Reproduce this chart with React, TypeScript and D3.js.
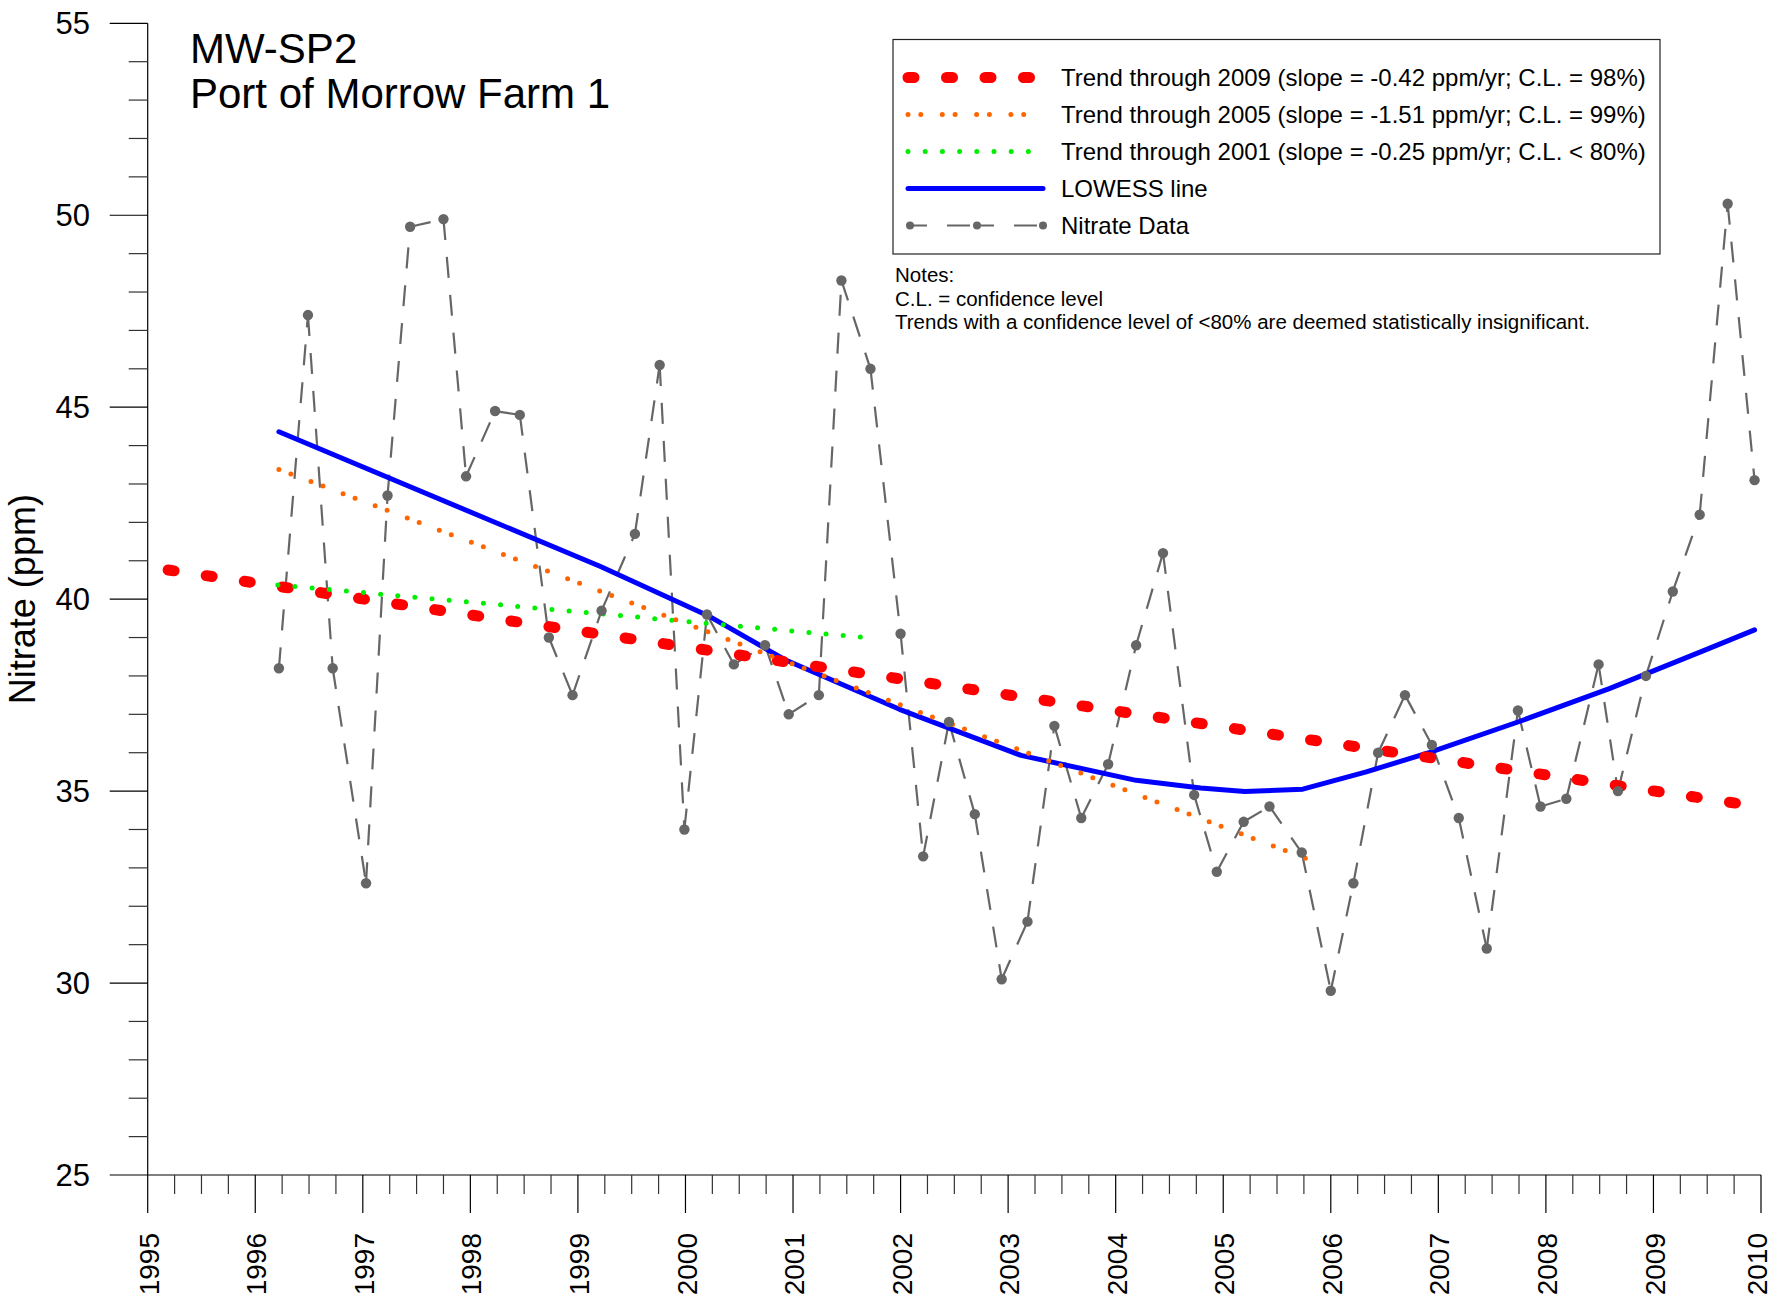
import * as d3 from "d3";
import { useEffect, useRef } from "react";

// sample dates (decimal years) and nitrate readings, ppm
const sampleYears = [
  1996.22, 1996.49, 1996.72, 1997.03, 1997.23, 1997.44, 1997.75, 1997.96,
  1998.23, 1998.46, 1998.73, 1998.95, 1999.22, 1999.53, 1999.76, 1999.99,
  2000.2, 2000.45, 2000.74, 2000.96, 2001.24, 2001.45, 2001.72, 2002.0,
  2002.21, 2002.45, 2002.69, 2002.94, 2003.18, 2003.43, 2003.68, 2003.93,
  2004.19, 2004.44, 2004.73, 2004.94, 2005.19, 2005.43, 2005.73, 2006.0,
  2006.21, 2006.44, 2006.69, 2006.94, 2007.19, 2007.45, 2007.74, 2007.95,
  2008.19, 2008.49, 2008.67, 2008.93, 2009.18, 2009.43, 2009.69, 2009.94,
];
const nitrateValues = [
  38.2, 47.4, 38.2, 32.6, 42.7, 49.7, 49.9, 43.2,
  44.9, 44.8, 39.0, 37.5, 39.7, 41.7, 46.1, 34.0,
  39.6, 38.3, 38.8, 37.0, 37.5, 48.3, 46.0, 39.1,
  33.3, 36.8, 34.4, 30.1, 31.6, 36.7, 34.3, 35.7,
  38.8, 41.2, 34.9, 32.9, 34.2, 34.6, 33.4, 29.8,
  32.6, 36.0, 37.5, 36.2, 34.3, 30.9, 37.1, 34.6,
  34.8, 38.3, 35.0, 38.0, 40.2, 42.2, 50.3, 43.1,
];

// LOWESS curve
const lowessYears = [
  1996.22, 1999.21, 2000.21, 2000.92, 2001.99, 2003.12, 2004.19, 2004.79,
  2005.2, 2005.74, 2006.33, 2006.92, 2007.74, 2008.59, 2009.45, 2009.94,
];
const lowessValues = [
  44.36, 40.85, 39.57, 38.43, 37.13, 35.93, 35.28, 35.08,
  34.99, 35.05, 35.5, 36.01, 36.8, 37.67, 38.64, 39.2,
];

// trend lines (end points)
const trend2009Years = [1995.19, 2009.78];
const trend2009Values = [40.76, 34.68];
const trend2005Years = [1996.22, 2005.87];
const trend2005Values = [43.38, 33.14];
const trend2001Years = [1996.21, 2001.68];
const trend2001Values = [40.37, 39.0];

const yearTicks = d3.range(1995, 2011);
const valueTicks = [25, 30, 35, 40, 45, 50, 55];

const legendLabels = [
  "Trend through 2009 (slope = -0.42 ppm/yr; C.L. = 98%)",
  "Trend through 2005 (slope = -1.51 ppm/yr; C.L. = 99%)",
  "Trend through 2001 (slope = -0.25 ppm/yr; C.L. < 80%)",
  "LOWESS line",
  "Nitrate Data",
];
const noteLines = [
  "Notes:",
  "C.L. = confidence level",
  "Trends with a confidence level of <80% are deemed statistically insignificant.",
];
const titleLines = ["MW-SP2", "Port of Morrow Farm 1"];

const W = 1775,
  H = 1306;
const FONT = "Arial, 'Liberation Sans', sans-serif";
const GRAY = "#666666";

const lineStyles = [
  { stroke: "#ff0000", width: 11, dash: "6 32.5" },
  { stroke: "#ff6600", width: 5, dash: "0 12.8 0 21.5" },
  { stroke: "#00ee00", width: 5, dash: "0 17.2" },
  { stroke: "#0000ff", width: 5, dash: null },
];

const App = () => {
  const ref = useRef(null);

  useEffect(() => {
    const svg = d3.select(ref.current);
    svg.selectAll("*").remove();

    const x = d3.scaleLinear().domain([1995, 2010]).range([147.7, 1761]);
    const y = d3.scaleLinear().domain([25, 55]).range([1175, 23.3]);

    const g = svg.append("g");

    // y axis
    g.append("line")
      .attr("x1", x(1995)).attr("x2", x(1995))
      .attr("y1", y(25)).attr("y2", y(55))
      .attr("stroke", "#000").attr("stroke-width", 1.2);
    d3.range(25, 56).forEach((v) => {
      const major = v % 5 === 0;
      g.append("line")
        .attr("x1", x(1995) - (major ? 38 : 19)).attr("x2", x(1995))
        .attr("y1", y(v)).attr("y2", y(v))
        .attr("stroke", major ? "#000" : "#333").attr("stroke-width", 1.2);
    });
    valueTicks.forEach((v) => {
      g.append("text")
        .attr("x", 90).attr("y", y(v)).attr("dy", "0.36em")
        .attr("text-anchor", "end")
        .attr("font-family", FONT).attr("font-size", 31)
        .text(v);
    });
    g.append("text")
      .attr("transform", `translate(35,${(y(25) + y(55)) / 2}) rotate(-90)`)
      .attr("text-anchor", "middle")
      .attr("font-family", FONT).attr("font-size", 36)
      .text("Nitrate (ppm)");

    // x axis
    g.append("line")
      .attr("x1", x(1995)).attr("x2", x(2010))
      .attr("y1", y(25)).attr("y2", y(25))
      .attr("stroke", "#000").attr("stroke-width", 1.2);
    d3.range(1995, 2010.01, 0.25).forEach((t) => {
      const major = Math.abs(t - Math.round(t)) < 1e-6;
      g.append("line")
        .attr("x1", x(t)).attr("x2", x(t))
        .attr("y1", y(25)).attr("y2", y(25) + (major ? 38 : 19))
        .attr("stroke", major ? "#000" : "#333").attr("stroke-width", 1.2);
    });
    yearTicks.forEach((t) => {
      // keep the last label inside the page edge
      const lx = Math.min(x(t) + 1, W - 18);
      g.append("text")
        .attr("transform", `translate(${lx},1233) rotate(-90)`)
        .attr("text-anchor", "end").attr("dy", "0.36em")
        .attr("font-family", FONT).attr("font-size", 28)
        .text(t);
    });

    // title
    titleLines.forEach((t, i) => {
      g.append("text")
        .attr("x", 190).attr("y", 63 + i * 45)
        .attr("font-family", FONT).attr("font-size", 42)
        .text(t);
    });

    const line = d3.line().x((d) => x(d[0])).y((d) => y(d[1]));

    // nitrate data: dashed segments, each segment starts its own dash
    const pts = sampleYears.map((t, i) => [t, nitrateValues[i]]);
    const segs = g.append("g");
    for (let i = 0; i < pts.length - 1; i++) {
      segs.append("path")
        .attr("d", line([pts[i], pts[i + 1]]))
        .attr("fill", "none").attr("stroke", GRAY)
        .attr("stroke-width", 2.2).attr("stroke-dasharray", "21 17");
    }

    // LOWESS + trends
    const series = [
      [lowessYears, lowessValues, lineStyles[3]],
      [trend2009Years, trend2009Values, lineStyles[0]],
      [trend2001Years, trend2001Values, lineStyles[2]],
      [trend2005Years, trend2005Values, lineStyles[1]],
    ];
    series.forEach(([xs, vs, st]) => {
      g.append("path")
        .attr("d", line(xs.map((t, i) => [t, vs[i]])))
        .attr("fill", "none")
        .attr("stroke", st.stroke).attr("stroke-width", st.width)
        .attr("stroke-linecap", "round").attr("stroke-linejoin", "round")
        .attr("stroke-dasharray", st.dash);
    });

    g.append("g").selectAll("circle").data(pts).join("circle")
      .attr("cx", (d) => x(d[0])).attr("cy", (d) => y(d[1]))
      .attr("r", 5.2).attr("fill", GRAY);

    // legend
    const lg = g.append("g");
    lg.append("rect")
      .attr("x", 893).attr("y", 39.5).attr("width", 767).attr("height", 214.5)
      .attr("fill", "#fff").attr("stroke", "#222").attr("stroke-width", 1.2);
    const rowY = (i) => 77.5 + i * 37;
    lineStyles.forEach((st, i) => {
      lg.append("line")
        .attr("x1", 908).attr("x2", 1043)
        .attr("y1", rowY(i)).attr("y2", rowY(i))
        .attr("stroke", st.stroke).attr("stroke-width", st.width)
        .attr("stroke-linecap", "round")
        .attr("stroke-dasharray", st.dash);
    });
    const lx = [910, 977, 1043];
    for (let i = 0; i < 2; i++) {
      lg.append("line")
        .attr("x1", lx[i]).attr("x2", lx[i + 1])
        .attr("y1", rowY(4)).attr("y2", rowY(4))
        .attr("stroke", GRAY).attr("stroke-width", 2.2)
        .attr("stroke-dasharray", "17 20 23 20");
    }
    lx.forEach((px) => {
      lg.append("circle").attr("cx", px).attr("cy", rowY(4)).attr("r", 4).attr("fill", GRAY);
    });
    legendLabels.forEach((t, i) => {
      lg.append("text")
        .attr("x", 1061).attr("y", rowY(i)).attr("dy", "0.36em")
        .attr("font-family", FONT).attr("font-size", 24)
        .text(t);
    });

    noteLines.forEach((t, i) => {
      g.append("text")
        .attr("x", 895).attr("y", 282 + i * 23.5)
        .attr("font-family", FONT).attr("font-size", 20.5)
        .text(t);
    });
  }, []);

  return (
    <svg
      ref={ref}
      width={W}
      height={H}
      style={{ position: "absolute", left: 0, top: 0, background: "#fff" }}
    />
  );
};

export default App;
